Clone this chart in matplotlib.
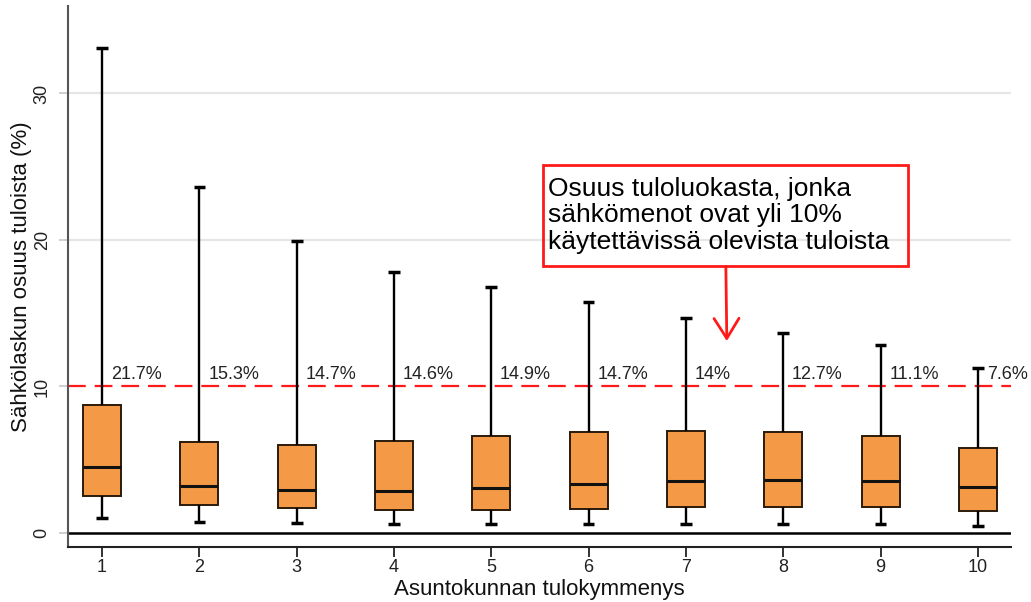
import matplotlib
matplotlib.use("Agg")
import matplotlib.pyplot as plt
from matplotlib.patches import Rectangle

plt.rcParams['font.family'] = ['Liberation Sans', 'DejaVu Sans']

# Data
deciles = [1, 2, 3, 4, 5, 6, 7, 8, 9, 10]
whisker_low = [1.0, 0.77, 0.66, 0.64, 0.64, 0.64, 0.64, 0.64, 0.64, 0.50]
q1 = [2.55, 1.93, 1.71, 1.57, 1.59, 1.66, 1.77, 1.80, 1.75, 1.48]
median = [4.48, 3.23, 2.93, 2.87, 3.07, 3.32, 3.57, 3.64, 3.57, 3.14]
q3 = [8.73, 6.21, 5.98, 6.28, 6.60, 6.92, 6.98, 6.89, 6.62, 5.78]
whisker_high = [33.1, 23.64, 19.93, 17.84, 16.81, 15.75, 14.68, 13.67, 12.83, 11.24]
share_over_10 = ["21.7%", "15.3%", "14.7%", "14.6%", "14.9%", "14.7%", "14%", "12.7%", "11.1%", "7.6%"]
threshold = 10
yticks = [0, 10, 20, 30]

fig = plt.figure(figsize=(10.31, 6.02), dpi=100)
ax = fig.add_axes([68/1031, 55/602, 943/1031, 541/602])

stats = []
for i in range(len(deciles)):
    stats.append(dict(whislo=whisker_low[i], q1=q1[i], med=median[i],
                      q3=q3[i], whishi=whisker_high[i], fliers=[]))

ax.bxp(stats, positions=deciles, widths=0.39, capwidths=0.12, patch_artist=True,
       showfliers=False,
       boxprops=dict(facecolor='#F49A46', edgecolor='#2b1a0a', linewidth=1.4),
       medianprops=dict(color='#111111', linewidth=2.2, solid_capstyle='butt'),
       whiskerprops=dict(color='black', linewidth=1.7, solid_capstyle='butt'),
       capprops=dict(color='black', linewidth=2.5, solid_capstyle='butt'),
       zorder=3)

# Grid lines
for y in [20, 30]:
    ax.axhline(y, color='#e6e6e6', linewidth=1.6, zorder=0)
ax.axhline(0, color='black', linewidth=1.8, zorder=2)
ax.axhline(threshold, color='#ff1a1a', linewidth=1.6, dashes=(8, 4), zorder=2)

for x, lab in zip(deciles, share_over_10):
    ax.text(x + 0.09, 10.5, lab, fontsize=13, va='baseline', ha='left',
            color='#222222', zorder=4)

# Annotation box
ax.add_patch(Rectangle((5.53, 18.2), 3.75, 6.9, fill=False, edgecolor='#ff1a1a',
                       linewidth=2, zorder=5))
ax.text(5.585, 21.68, "Osuus tuloluokasta, jonka\nsähkömenot ovat yli 10%\nkäytettävissä olevista tuloista",
        fontsize=19, va='center', ha='left', linespacing=1.12, color='black', zorder=6)
ax.annotate('', xy=(7.42, 13.1), xytext=(7.41, 18.2),
            arrowprops=dict(arrowstyle='->,head_length=0.4,head_width=0.25',
                            color='#ff1a1a', lw=2, mutation_scale=36, shrinkA=0, shrinkB=0),
            zorder=6)

ax.set_xlim(0.65, 10.34)
ax.set_ylim(-0.96, 35.97)
ax.set_xticks(deciles)
ax.set_xticklabels([str(d) for d in deciles])
ax.set_yticks(yticks)
ax.set_yticklabels([str(t) for t in yticks], rotation=90, va='center')

ax.spines['top'].set_visible(False)
ax.spines['right'].set_visible(False)
ax.spines['left'].set_color('#555555')
ax.spines['left'].set_linewidth(1.5)
ax.spines['bottom'].set_color('#222222')
ax.spines['bottom'].set_linewidth(1.5)

ax.tick_params(axis='x', length=7, width=1.3, pad=2, labelsize=13, colors='#222222')
ax.tick_params(axis='y', length=6.5, width=1.3, pad=6, labelsize=13, color='#cccccc',
               labelcolor='#222222')

ax.set_xlabel("Asuntokunnan tulokymmenys", fontsize=16, labelpad=2, color='#111111')
ax.set_ylabel("Sähkölaskun osuus tuloista (%)", fontsize=16, labelpad=1, color='#111111')

fig.savefig("out.png", dpi=100)
